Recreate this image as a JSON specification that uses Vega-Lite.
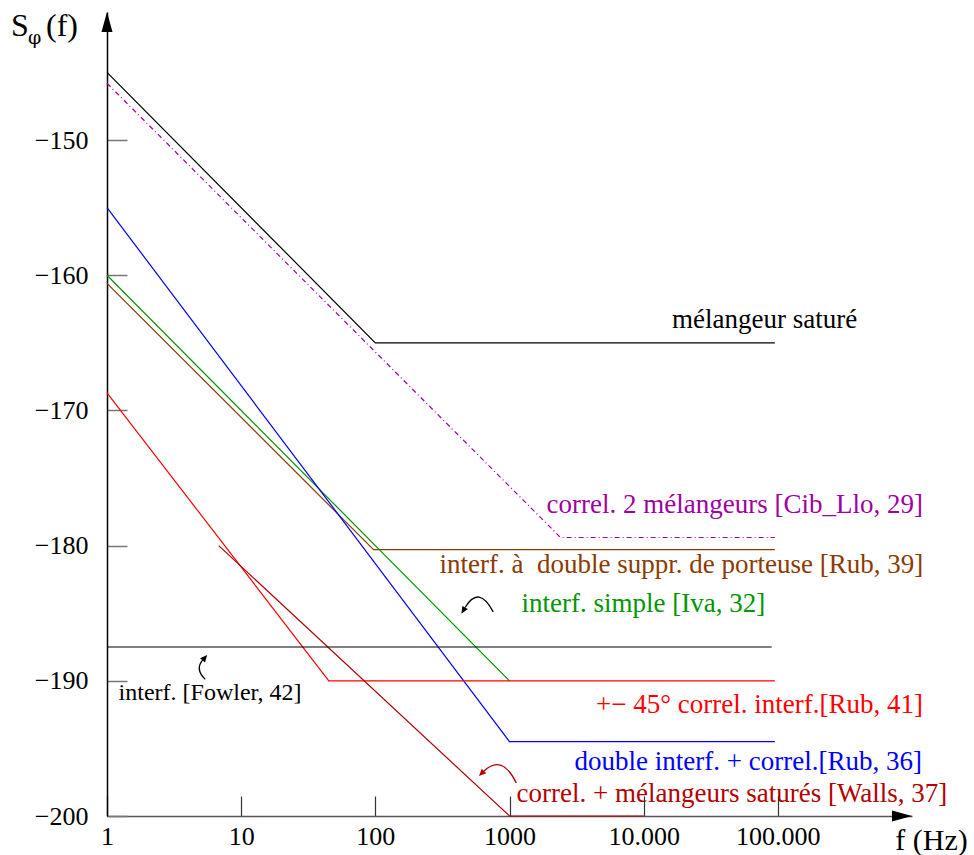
{
  "$schema": "https://vega.github.io/schema/vega-lite/v6.json",
  "width": 805,
  "height": 804,
  "autosize": {"type": "none"},
  "padding": {"left": 107, "top": 12, "right": 62, "bottom": 39},
  "background": "white",
  "config": {"view": {"stroke": null}, "font": "Liberation Serif"},
  "datasets": {
    "lines": [
      {"s": "sat", "f": 1, "S": -145},
      {"s": "sat", "f": 100, "S": -165},
      {"s": "sat", "f": 95000, "S": -165},
      {"s": "cib", "f": 1, "S": -145.8},
      {"s": "cib", "f": 2400, "S": -179.4},
      {"s": "cib", "f": 95000, "S": -179.4},
      {"s": "rub39", "f": 1, "S": -160.6},
      {"s": "rub39", "f": 97, "S": -180.3},
      {"s": "rub39", "f": 95000, "S": -180.3},
      {"s": "iva", "f": 1, "S": -160},
      {"s": "iva", "f": 1000, "S": -190},
      {"s": "rub36", "f": 1, "S": -155},
      {"s": "rub36", "f": 1000, "S": -194.5},
      {"s": "rub36", "f": 95000, "S": -194.5},
      {"s": "rub41", "f": 1, "S": -168.7},
      {"s": "rub41", "f": 45, "S": -190},
      {"s": "rub41", "f": 95000, "S": -190},
      {"s": "walls", "f": 6.8, "S": -180},
      {"s": "walls", "f": 1000, "S": -200},
      {"s": "walls", "f": 10000, "S": -200},
      {"s": "fowler", "f": 1, "S": -187.5},
      {"s": "fowler", "f": 90000, "S": -187.5}
    ],
    "labels": [
      {"s": "sat", "f": 391000, "S": -163.9, "t": "mélangeur saturé"},
      {"s": "cib", "f": 1208000, "S": -177.59, "t": "correl. 2 mélangeurs [Cib_Llo, 29]"},
      {"s": "rub39", "f": 1213000, "S": -182.02, "t": "interf. à\u00a0 double suppr. de porteuse [Rub, 39]"},
      {"s": "iva", "f": 80600, "S": -184.91, "t": "interf. simple [Iva, 32]"},
      {"s": "rub41", "f": 1208000, "S": -192.38, "t": "+− 45° correl. interf.[Rub, 41]"},
      {"s": "rub36", "f": 1187000, "S": -196.6, "t": "double interf. + correl.[Rub, 36]"},
      {"s": "walls", "f": 1830000, "S": -198.94, "t": "correl. + mélangeurs saturés [Walls, 37]"}
    ],
    "fowlerLabel": [
      {"s": "fowler", "f": 1.22, "S": -191.42, "t": "interf. [Fowler, 42]"}
    ],
    "arrows": [
      {"a": "fowler", "f": 5.22, "S": -188.98},
      {"a": "iva", "f": 575, "S": -184.46},
      {"a": "walls", "f": 811, "S": -196.82}
    ],
    "anchors": [
      {"k": "xend", "f": 1000000, "S": -200},
      {"k": "ytop", "f": 1, "S": -140.53}
    ]
  },
  "encoding": {
    "x": {
      "field": "f",
      "type": "quantitative",
      "scale": {"type": "log", "domain": [1, 1000000], "nice": false},
      "axis": {
        "values": [1, 10, 100, 1000, 10000, 100000],
        "tickSize": -20,
        "tickColor": "#333333",
        "tickWidth": 1.2,
        "domainColor": "#555555",
        "domainWidth": 1.5,
        "labelFont": "Liberation Serif",
        "labelFontSize": 26,
        "labelColor": "#000000",
        "labelPadding": 27,
        "labelFlush": false,
        "labelOverlap": false,
        "labelExpr": "datum.value == 10000 ? '10.000' : datum.value == 100000 ? '100.000' : format(datum.value, 'd')",
        "grid": false,
        "title": null
      }
    },
    "y": {
      "field": "S",
      "type": "quantitative",
      "scale": {"domain": [-200, -140.53], "nice": false, "zero": false},
      "axis": {
        "values": [-200, -190, -180, -170, -160, -150],
        "tickSize": -20,
        "tickColor": "#777777",
        "tickWidth": 1.5,
        "domainColor": "#000000",
        "domainWidth": 1.5,
        "labelFont": "Liberation Serif",
        "labelFontSize": 26,
        "labelColor": "#000000",
        "labelPadding": 39,
        "labelFlush": false,
        "labelOverlap": false,
        "grid": false,
        "title": null
      }
    }
  },
  "layer": [
    {
      "data": {"name": "lines"},
      "transform": [{"filter": "datum.s != 'cib'"}],
      "mark": {"type": "line", "strokeWidth": 1.2},
      "encoding": {
        "color": {
          "field": "s", "type": "nominal", "legend": null,
          "scale": {
            "domain": ["sat", "cib", "rub39", "iva", "rub36", "rub41", "walls", "fowler"],
            "range": ["#000000", "#a000a0", "#8c3a00", "#009600", "#0000ff", "#ff0000", "#b40000", "#000000"]
          }
        }
      }
    },
    {
      "data": {"name": "lines"},
      "transform": [{"filter": "datum.s == 'cib'"}],
      "mark": {"type": "line", "strokeWidth": 1.2, "strokeDash": [5, 3, 1, 3]},
      "encoding": {
        "color": {
          "field": "s", "type": "nominal", "legend": null,
          "scale": {
            "domain": ["sat", "cib", "rub39", "iva", "rub36", "rub41", "walls", "fowler"],
            "range": ["#000000", "#a000a0", "#8c3a00", "#009600", "#0000ff", "#ff0000", "#b40000", "#000000"]
          }
        }
      }
    },
    {
      "data": {"name": "labels"},
      "mark": {"type": "text", "align": "right", "baseline": "alphabetic", "font": "Liberation Serif", "fontSize": 27},
      "encoding": {
        "text": {"field": "t"},
        "color": {
          "field": "s", "type": "nominal", "legend": null,
          "scale": {
            "domain": ["sat", "cib", "rub39", "iva", "rub36", "rub41", "walls", "fowler"],
            "range": ["#000000", "#a000a0", "#8c3a00", "#009600", "#0000ff", "#ff0000", "#b40000", "#000000"]
          }
        }
      }
    },
    {
      "data": {"name": "fowlerLabel"},
      "mark": {"type": "text", "align": "left", "baseline": "alphabetic", "font": "Liberation Serif", "fontSize": 24, "color": "#000000"},
      "encoding": {"text": {"field": "t"}}
    },
    {
      "data": {"name": "arrows"},
      "transform": [{"filter": "datum.a == 'fowler'"}],
      "mark": {"type": "point", "shape": "M0.15,0.95 Q-0.66,0.17 -0.04,-0.55", "size": 676, "filled": false, "stroke": "#000000", "strokeWidth": 1.3, "opacity": 1}
    },
    {
      "data": {"name": "arrows"},
      "transform": [{"filter": "datum.a == 'fowler'"}],
      "mark": {"type": "point", "shape": "M0.3,-0.92 L0.13,-0.34 L-0.25,-0.68 Z", "size": 676, "filled": true, "fill": "#000000", "strokeWidth": 0, "opacity": 1}
    },
    {
      "data": {"name": "arrows"},
      "transform": [{"filter": "datum.a == 'iva'"}],
      "mark": {"type": "point", "shape": "M1,0.375 Q0.1,-1.34 -0.76,0.1", "size": 1024, "filled": false, "stroke": "#000000", "strokeWidth": 1.3, "opacity": 1}
    },
    {
      "data": {"name": "arrows"},
      "transform": [{"filter": "datum.a == 'iva'"}],
      "mark": {"type": "point", "shape": "M-0.99,0.49 L-0.59,0.2 L-0.93,0 Z", "size": 1024, "filled": true, "fill": "#000000", "strokeWidth": 0, "opacity": 1}
    },
    {
      "data": {"name": "arrows"},
      "transform": [{"filter": "datum.a == 'walls'"}],
      "mark": {"type": "point", "shape": "M1.19,0.62 Q0.3,-1.2 -0.83,-0.12", "size": 1024, "filled": false, "stroke": "#b40000", "strokeWidth": 1.3, "opacity": 1}
    },
    {
      "data": {"name": "arrows"},
      "transform": [{"filter": "datum.a == 'walls'"}],
      "mark": {"type": "point", "shape": "M-1.15,0.19 L-0.69,0.02 L-0.97,-0.26 Z", "size": 1024, "filled": true, "fill": "#b40000", "strokeWidth": 0, "opacity": 1}
    },
    {
      "data": {"name": "anchors"},
      "transform": [{"filter": "datum.k == 'xend'"}],
      "mark": {"type": "point", "shape": "M0,0 L-2,-0.55 L-2,0.55 Z", "size": 400, "filled": true, "fill": "#000000", "strokeWidth": 0, "opacity": 1}
    },
    {
      "data": {"name": "anchors"},
      "transform": [{"filter": "datum.k == 'ytop'"}],
      "mark": {"type": "point", "shape": "M0,0 L0.55,2 L-0.55,2 Z", "size": 400, "filled": true, "fill": "#000000", "strokeWidth": 0, "opacity": 1}
    },
    {
      "data": {"name": "anchors"},
      "transform": [{"filter": "datum.k == 'ytop'"}],
      "mark": {"type": "text", "text": "S", "align": "left", "baseline": "alphabetic", "font": "Liberation Serif", "fontSize": 32, "color": "#000000", "dx": -96, "dy": 24}
    },
    {
      "data": {"name": "anchors"},
      "transform": [{"filter": "datum.k == 'ytop'"}],
      "mark": {"type": "text", "text": "φ", "align": "left", "baseline": "alphabetic", "font": "DejaVu Serif", "fontSize": 19, "color": "#000000", "dx": -79, "dy": 32}
    },
    {
      "data": {"name": "anchors"},
      "transform": [{"filter": "datum.k == 'ytop'"}],
      "mark": {"type": "text", "text": "(f)", "align": "left", "baseline": "alphabetic", "font": "Liberation Serif", "fontSize": 32, "color": "#000000", "dx": -61, "dy": 24}
    },
    {
      "data": {"name": "anchors"},
      "transform": [{"filter": "datum.k == 'xend'"}],
      "mark": {"type": "text", "text": "f (Hz)", "align": "left", "baseline": "alphabetic", "font": "Liberation Serif", "fontSize": 30, "color": "#000000", "dx": -16.7, "dy": 34}
    }
  ]
}
